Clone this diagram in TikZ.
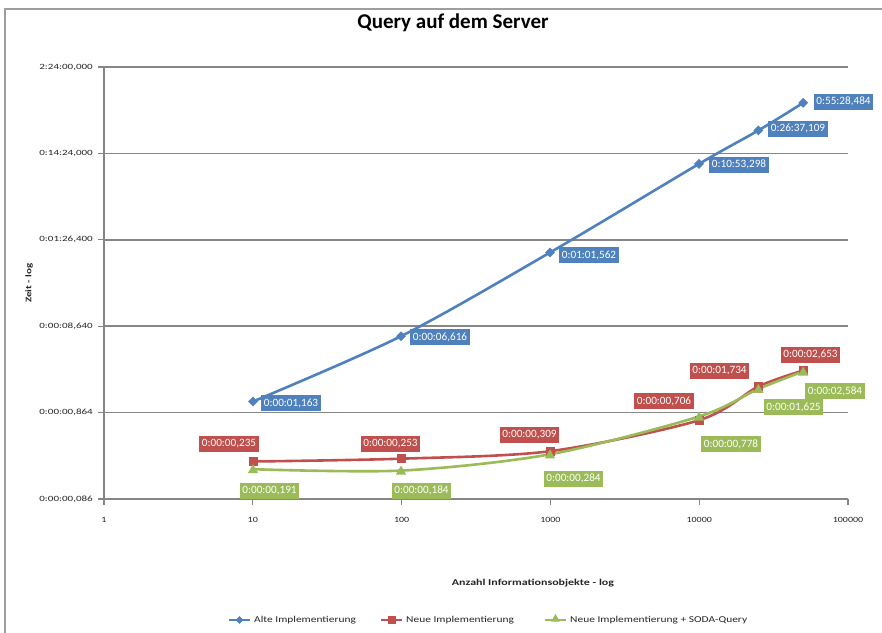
\documentclass[tikz,border=0pt]{standalone}
\usepackage{fontspec}
\setmainfont{Carlito}
\usetikzlibrary{shapes.geometric}
\definecolor{sblue}{HTML}{4F81BD}
\definecolor{sred}{HTML}{C0504D}
\definecolor{sgreen}{HTML}{9BBB59}
\definecolor{gridgray}{HTML}{868686}
\definecolor{txt}{HTML}{262626}
\newcommand{\wide}[1]{\scalebox{1.38}[1]{#1}}
\tikzset{
  gline/.style={draw=gridgray, line width=1.5pt},
  tickline/.style={draw=gridgray, line width=1.2pt},
  serie/.style={line width=2.6pt, smooth, tension=0.5},
  lab/.style={text=white, font=\fontsize{11.2}{13}\selectfont, inner sep=2.5pt, minimum height=16pt},
  blab/.style={lab, fill=sblue},
  rlab/.style={lab, fill=sred},
  glab/.style={lab, fill=sgreen},
  bmark/.style={diamond, fill=sblue, inner sep=0pt, minimum width=10pt, minimum height=10pt},
  rmark/.style={rectangle, fill=sred, inner sep=0pt, minimum size=9pt},
  gmark/.style={regular polygon, regular polygon sides=3, fill=sgreen, inner sep=0pt, minimum size=12pt},
  ylab/.style={anchor=east, text=txt, font=\fontsize{8}{9}\selectfont, inner sep=0pt},
  xlab/.style={anchor=center, text=txt, font=\fontsize{8}{9}\selectfont, inner sep=0pt},
  legtext/.style={anchor=west, text=txt, font=\fontsize{9}{10}\selectfont, inner sep=0pt}
}
\begin{document}
\begin{tikzpicture}[x=1pt,y=-1pt]
\useasboundingbox (0,0) rectangle (882,632);
\fill[white] (0,0) rectangle (882,632);
% chart frame
\draw[draw=gridgray!80, line width=1.5pt] (5,640) -- (5,9) -- (890,9);
% title
\node[font=\bfseries\fontsize{21}{24}\selectfont, text=black] (title) at (453,23) {Query auf dem Server};
% gridlines and y ticks
\foreach \k/\t in {0/{0:00:00,086},1/{0:00:00,864},2/{0:00:08,640},3/{0:01:26,400},4/{0:14:24,000},5/{2:24:00,000}}{
  \draw[gline] (104,499-86.4*\k) -- (848,499-86.4*\k);
  \draw[tickline] (98,499-86.4*\k) -- (104,499-86.4*\k);
  \node[ylab] at (93,499-86.4*\k) {\wide{\t}};
}
% axes
\draw[gline] (104,67) -- (104,499);
\draw[gline] (104,499) -- (848,499);
\foreach \k/\t in {0/1,1/10,2/100,3/1000,4/10000,5/100000}{
  \draw[tickline] (104+148.8*\k,499) -- (104+148.8*\k,505);
  \node[xlab] at (104+148.8*\k,520) {\scalebox{1.25}[1]{\t}};
}
% axis titles
\node[font=\bfseries\fontsize{8.5}{9}\selectfont, text=txt, rotate=90] (ytitle) at (29,283) {\scalebox{1.3}[1]{Zeit - log}};
\node[font=\bfseries\fontsize{9}{10}\selectfont, text=txt] (xtitle) at (533,583) {\scalebox{1.33}[1]{Anzahl Informationsobjekte - log}};
% data points
\coordinate (b1) at (253,401.5);
\coordinate (b2) at (401,336.2);
\coordinate (b3) at (550,252.5);
\coordinate (b4) at (699,163.9);
\coordinate (b5) at (758.4,130.4);
\coordinate (b6) at (803.2,102.8);
\coordinate (r1) at (253,461.5);
\coordinate (r2) at (401,458.7);
\coordinate (r3) at (550,451.2);
\coordinate (r4) at (699,420.2);
\coordinate (r5) at (758.4,386.5);
\coordinate (r6) at (803.2,370.5);
\coordinate (g1) at (253,469.2);
\coordinate (g2) at (401,470.6);
\coordinate (g3) at (550,454.3);
\coordinate (g4) at (699,416.5);
\coordinate (g5) at (758.4,388.9);
\coordinate (g6) at (803.2,371.5);
% series lines
\draw[serie, sblue] plot coordinates {(b1) (b2) (b3) (b4) (b5) (b6)};
\draw[serie, sred] plot coordinates {(r1) (r2) (r3) (r4) (r5) (r6)};
\draw[serie, sgreen] plot coordinates {(g1) (g2) (g3) (g4) (g5) (g6)};
% markers
\foreach \i in {1,...,6}{
  \node[bmark] (bm\i) at (b\i) {};
  \node[rmark] (rm\i) at (r\i) {};
}
\foreach \i in {1,...,6}{
  \node[gmark] (gm\i) at ([yshift=-1pt]g\i) {};
}
% data labels blue
\node[blab] (bl1) at (291,403) {0:00:01,163};
\node[blab] (bl2) at (440,337) {0:00:06,616};
\node[blab] (bl3) at (589,255) {0:01:01,562};
\node[blab] (bl4) at (739,164.5) {0:10:53,298};
\node[blab] (bl5) at (798,128.5) {0:26:37,109};
\node[blab] (bl6) at (843.5,101.5) {0:55:28,484};
% data labels red
\node[rlab] (rl1) at (229,444) {0:00:00,235};
\node[rlab] (rl2) at (390.5,443.5) {0:00:00,253};
\node[rlab] (rl3) at (529.5,434.5) {0:00:00,309};
\node[rlab] (rl4) at (664,401) {0:00:00,706};
\node[rlab] (rl5) at (719.5,371) {0:00:01,734};
\node[rlab] (rl6) at (810.5,354.5) {0:00:02,653};
% data labels green
\node[glab] (gl1) at (269.5,490.5) {0:00:00,191};
\node[glab] (gl2) at (421.5,490.5) {0:00:00,184};
\node[glab] (gl3) at (573.5,478.5) {0:00:00,284};
\node[glab] (gl4) at (731,444) {0:00:00,778};
\node[glab] (gl5) at (793.5,407) {0:00:01,625};
\node[glab] (gl6) at (835,391) {0:00:02,584};
% legend
\draw[line width=2.6pt, sblue] (229,620) -- (250,620);
\node[bmark, minimum width=8pt, minimum height=8pt] (lbm) at (239.5,620) {};
\node[legtext] (lbt) at (254,620) {\scalebox{1.27}[1]{Alte Implementierung}};
\draw[line width=2.6pt, sred] (381,620) -- (402,620);
\node[rmark, minimum size=8pt] (lrm) at (391.5,620) {};
\node[legtext] (lrt) at (406,620) {\scalebox{1.27}[1]{Neue Implementierung}};
\draw[line width=2.6pt, sgreen] (545,620) -- (566,620);
\node[gmark, minimum size=10pt] (lgm) at (555.5,619) {};
\node[legtext] (lgt) at (570,620) {\scalebox{1.27}[1]{Neue Implementierung + SODA-Query}};
\end{tikzpicture}
\end{document}
